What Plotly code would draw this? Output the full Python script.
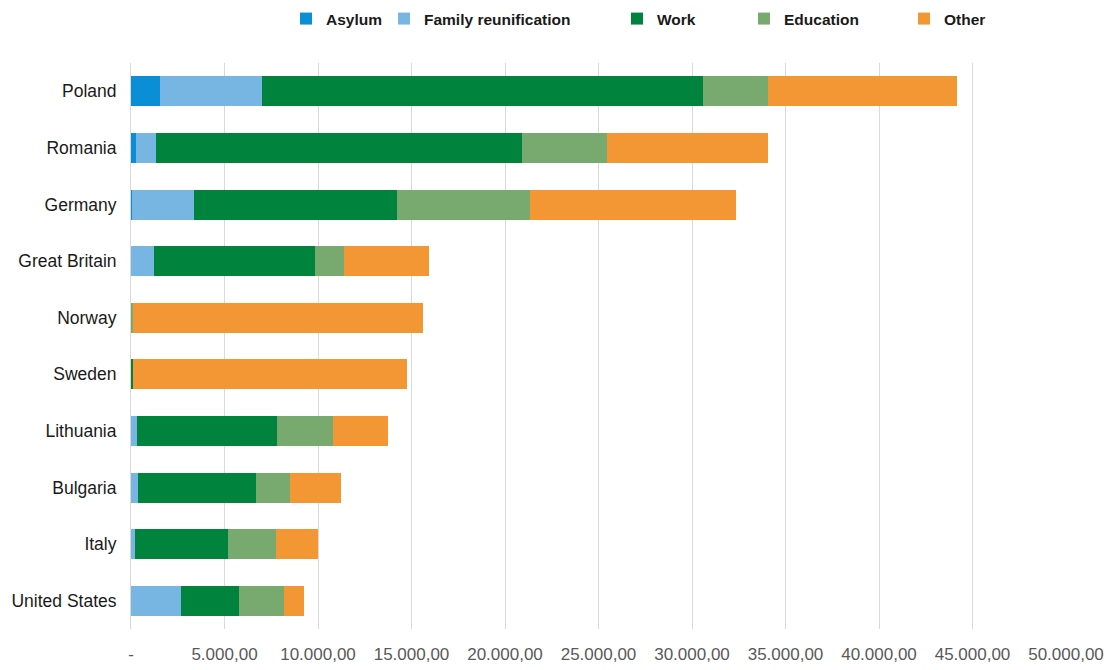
import plotly.graph_objects as go

countries = ["Poland", "Romania", "Germany", "Great Britain", "Norway", "Sweden",
             "Lithuania", "Bulgaria", "Italy", "United States"]
asylum = [1550, 270, 50, 20, 0, 0, 20, 20, 20, 10]
family = [5450, 1070, 3320, 1210, 20, 20, 300, 350, 190, 2670]
work = [23600, 19580, 10860, 8610, 30, 100, 7490, 6320, 4980, 3100]
education = [3470, 4550, 7120, 1560, 60, 0, 3000, 1820, 2570, 2410]
other = [10110, 8610, 11020, 4540, 15510, 14650, 2940, 2730, 2240, 1070]

tick_vals = [0, 5000, 10000, 15000, 20000, 25000, 30000, 35000, 40000, 45000, 50000]
tick_text = ["-", "5.000,00", "10.000,00", "15.000,00", "20.000,00", "25.000,00",
             "30.000,00", "35.000,00", "40.000,00", "45.000,00", "50.000,00"]

series = [
    ("Asylum", asylum, "#0a8ed6"),
    ("Family reunification", family, "#77b5e3"),
    ("Work", work, "#00843d"),
    ("Education", education, "#78aa70"),
    ("Other", other, "#f39634"),
]
legend_text_px = [326, 424, 657, 784, 944]

fig = go.Figure()
for i, (name, vals, col) in enumerate(series):
    lg = "legend" if i == 0 else f"legend{i+1}"
    fig.add_trace(go.Bar(y=countries, x=vals, name=name, orientation="h",
                         marker=dict(color=col, line=dict(width=0)),
                         width=0.53, legend=lg))

OFF = 8  # page body margin
W, H = 1115 - OFF, 670 - OFF
left, right, top, bottom = 131 - OFF, 49, 63 - OFF, 41
layout_legends = {}
for i, px in enumerate(legend_text_px):
    key = "legend" if i == 0 else f"legend{i+1}"
    layout_legends[key] = dict(
        xref="container", yref="container",
        x=(px - OFF - 40) / W, y=1 - (19 - OFF) / H, xanchor="left", yanchor="middle",
        orientation="h", bgcolor="rgba(0,0,0,0)", borderwidth=0,
        font=dict(family="Liberation Sans, Arial, sans-serif", size=15.5, color="#1a1a1a",
                  weight="bold"),
        itemwidth=30,
    )

fig.update_layout(
    width=W, height=H,
    margin=dict(l=left, r=right, t=top, b=bottom, pad=0, autoexpand=False),
    barmode="stack",
    plot_bgcolor="white", paper_bgcolor="white",
    showlegend=True,
    bargap=0.47,
    xaxis=dict(range=[0, 50000], tickvals=tick_vals, ticktext=tick_text,
               showgrid=True, gridcolor="#d9d9d9", gridwidth=1,
               zeroline=False, showline=False, ticks="", automargin=False,
               tickfont=dict(family="Liberation Sans, Arial, sans-serif", size=17, color="#595959"),
               ticklabelstandoff=13, fixedrange=True),
    yaxis=dict(categoryorder="array", categoryarray=countries, autorange="reversed",
               showgrid=False, zeroline=False, showline=True, linecolor="#d9d9d9",
               ticks="", ticklabelstandoff=10, automargin=False,
               tickfont=dict(family="Liberation Sans, Arial, sans-serif", size=17.5, color="#1a1a1a")),
    **layout_legends,
)

fig.write_html("out.html")
